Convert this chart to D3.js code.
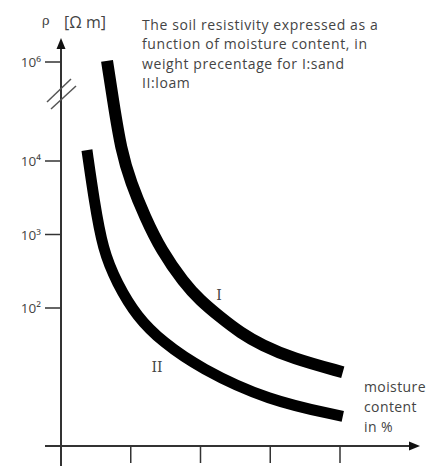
<!DOCTYPE html>
<html>
<head>
<meta charset="utf-8">
<script src="https://cdn.jsdelivr.net/npm/d3@7"></script>
<style>
  body { margin: 0; background: #fff; }
  text { font-family: "Open Sans", sans-serif; fill: #444; }
</style>
</head>
<body>
<svg id="chart" width="429" height="467"></svg>
<script>
// moisture content in %, resistivity in ohm m
var moistureTicks = [0, 5, 10, 15, 20];
var resistTicks = [1e2, 1e3, 1e4, 1e6];
var resistLabels = ["10²", "10³", "10⁴", "10⁶"];

var sandMoisture = [3.3, 3.73, 4.3, 5.02, 6.02, 7.17, 8.82, 9.96, 11.4, 12.9, 14.4, 16.56, 20.2];
var sandResist = [1.05e6, 1.7e5, 1.67e4, 5020, 1730, 615, 219, 128, 75.5, 45.7, 31.4, 20.9, 13.5];

var loamMoisture = [1.86, 2.37, 3.0, 4.0, 5.45, 7.3, 9.96, 14.8, 20.2];
var loamResist = [1.66e4, 2950, 615, 219, 75.5, 34.4, 15.3, 5.6, 3.4];

var titleLines = ["The soil resistivity expressed as a", "function of moisture content, in",
  "weight precentage for I:sand", "II:loam"];
var xLabelLines = ["moisture", "content", "in %"];

var svg = d3.select("#chart");

var x = d3.scaleLinear().domain([0, 20]).range([61, 340]);
// broken axis: the part above 10^4 is squeezed
var y = d3.scaleLog().domain([1.35, 1e2, 1e4, 1e6]).range([446, 308, 161, 62]);

var axisColor = "#333";

// y axis line with arrow
svg.append("line")
    .attr("x1", x(0)).attr("x2", x(0))
    .attr("y1", 466).attr("y2", 46)
    .attr("stroke", axisColor).attr("stroke-width", 2);
svg.append("path")
    .attr("d", "M" + x(0) + ",38 l-4.5,11 l9,0 z")
    .attr("fill", "#111");

// x axis line with arrow
svg.append("line")
    .attr("x1", 45).attr("x2", 412)
    .attr("y1", y(1.35)).attr("y2", y(1.35))
    .attr("stroke", axisColor).attr("stroke-width", 2);
svg.append("path")
    .attr("d", "M420," + y(1.35) + " l-11,-4.5 l0,9 z")
    .attr("fill", "#111");

// x ticks (below the axis, no labels)
svg.append("g").selectAll("line")
  .data(moistureTicks.slice(1))
  .enter().append("line")
    .attr("x1", function(d) { return x(d); })
    .attr("x2", function(d) { return x(d); })
    .attr("y1", y(1.35)).attr("y2", 463)
    .attr("stroke", axisColor).attr("stroke-width", 1.5);

// y ticks
var yt = svg.append("g");
yt.selectAll("line")
  .data(resistTicks)
  .enter().append("line")
    .attr("x1", 45).attr("x2", x(0))
    .attr("y1", function(d) { return y(d); })
    .attr("y2", function(d) { return y(d); })
    .attr("stroke", axisColor).attr("stroke-width", 1.5);
yt.selectAll("text")
  .data(resistTicks)
  .enter().append("text")
    .attr("x", 41)
    .attr("y", function(d) { return y(d) + 5; })
    .attr("text-anchor", "end")
    .style("font-size", "13.5px")
    .text(function(d, i) { return resistLabels[i]; });

// break marks on the y axis
svg.append("line").attr("x1", 47).attr("y1", 102).attr("x2", 71).attr("y2", 79)
    .attr("stroke", "#555").attr("stroke-width", 1.5);
svg.append("line").attr("x1", 51).attr("y1", 109).attr("x2", 76).attr("y2", 86)
    .attr("stroke", "#555").attr("stroke-width", 1.5);

// curves (B-spline smooths the hand-read points)
var line = d3.line()
    .x(function(d) { return x(d[0]); })
    .y(function(d) { return y(d[1]); })
    .curve(d3.curveBasis);

svg.append("path")
    .datum(d3.zip(sandMoisture, sandResist))
    .attr("d", line)
    .attr("fill", "none").attr("stroke", "#000").attr("stroke-width", 12);
svg.append("path")
    .datum(d3.zip(loamMoisture, loamResist))
    .attr("d", line)
    .attr("fill", "none").attr("stroke", "#000").attr("stroke-width", 11);

// curve labels
svg.append("text").attr("x", 219).attr("y", 300)
    .attr("text-anchor", "middle")
    .style("font-family", "DejaVu Serif").style("font-size", "14px")
    .text("I");
svg.append("text").attr("x", 157).attr("y", 372)
    .attr("text-anchor", "middle")
    .style("font-family", "DejaVu Serif").style("font-size", "14px")
    .text("II");

// axis title
svg.append("text").attr("x", 42).attr("y", 25)
    .style("font-family", "DejaVu Serif").style("font-size", "13px")
    .text("ρ");
svg.append("text").attr("x", 64).attr("y", 28)
    .style("font-size", "16px")
    .text("[Ω m]");

// title block
svg.append("g").selectAll("text")
  .data(titleLines)
  .enter().append("text")
    .attr("x", 142)
    .attr("y", function(d, i) { return 30 + i * 19.3; })
    .style("font-size", "14px")
    .style("letter-spacing", "0.6px")
    .text(function(d) { return d; });

// x label
svg.append("g").selectAll("text")
  .data(xLabelLines)
  .enter().append("text")
    .attr("x", 364)
    .attr("y", function(d, i) { return 392 + i * 20; })
    .style("font-size", "14px")
    .style("letter-spacing", "0.4px")
    .text(function(d) { return d; });
</script>
</body>
</html>
